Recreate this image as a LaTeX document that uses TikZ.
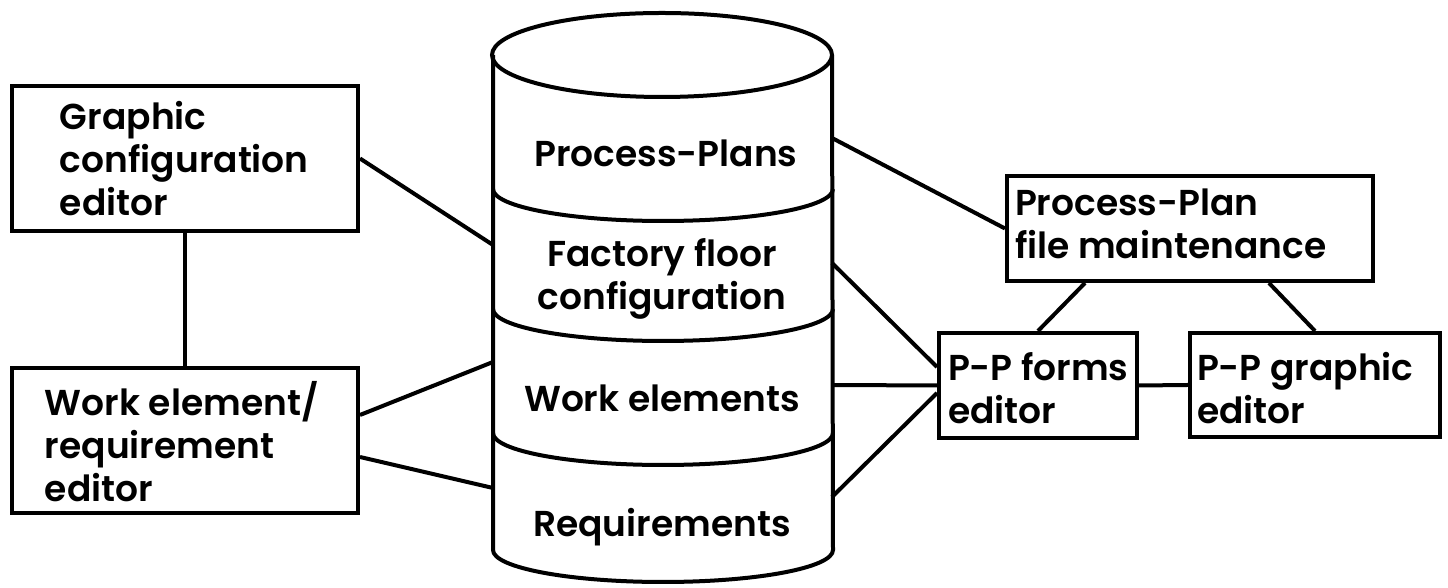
\documentclass[tikz,border=0pt]{standalone}
\usepackage{fontspec}
\setmainfont{Poppins}[UprightFont={* SemiBold}]
\newcommand\lefttext[3][0pt]{\raisebox{-#1}[\height][\depth]{\makebox[#2][l]{\begin{tabular}{@{}l@{}}#3\end{tabular}}}}
\begin{document}
\begin{tikzpicture}[x=0.5pt,y=0.5pt,line width=2pt,
  lbl/.style={font=\fontsize{18}{21.5}\selectfont},
  box/.style={draw,rectangle,inner ysep=0pt,lbl},
  dbtext/.style={lbl,align=center,anchor=base,inner sep=0pt}]
\useasboundingbox (0,0) rectangle (1448,588);
% database cylinder
\draw (662,533) ellipse [x radius=85pt,y radius=21pt];
\draw (493,533) -- (493,38) arc[start angle=180,end angle=360,x radius=85pt,y radius=16pt] -- (832,533);
\foreach \yy in {399,279,155}
  \draw (493,\yy) arc[start angle=180,end angle=360,x radius=85pt,y radius=16pt];
\coordinate (cl1) at (493,343);
\coordinate (cl2) at (493,226);
\coordinate (cl3) at (493,100);
\coordinate (cr1) at (832,450);
\coordinate (cr2) at (832,325);
\coordinate (cr3) at (832,203);
\coordinate (cr4) at (832,91);
\node[dbtext] (pp) at (666,421) {Process-Plans};
\node[dbtext] (ff) at (662,278) {Factory floor\\configuration};
\node[dbtext] (we) at (662,176) {Work elements};
\node[dbtext] (rq) at (662,51) {Requirements};
% boxes
\node[box,minimum width=173pt,minimum height=72.5pt,inner xsep=24pt] (gce) at (185,429.5)
  {\lefttext[2.5pt]{125pt}{Graphic\\configuration\\editor}};
\node[box,minimum width=173pt,minimum height=72.5pt,inner xsep=16.5pt] (wer) at (185,147.5)
  {\lefttext[3.5pt]{140pt}{Work element/\\requirement\\editor}};
\node[box,minimum width=183pt,minimum height=52.5pt,inner xsep=4pt] (ppfm) at (1190,359.5)
  {\lefttext{175pt}{Process-Plan\\file maintenance}};
\node[box,minimum width=99pt,minimum height=52.5pt,inner xsep=4.5pt] (ppf) at (1038,202.5)
  {\lefttext[4pt]{90pt}{P-P forms\\editor}};
\node[box,minimum width=125pt,minimum height=52pt,inner xsep=3.5pt] (ppg) at (1315,203)
  {\lefttext[4pt]{118pt}{P-P graphic\\editor}};
% connectors
\draw (gce.east) -- (cl1);
\draw ([yshift=12.75pt]wer.east) -- (cl2);
\draw ([yshift=-8.25pt]wer.east) -- (cl3);
\draw (gce.south) -- (wer.north);
\draw (cr1) -- (ppfm.west);
\draw (cr2) -- ([yshift=9.25pt]ppf.west);
\draw (cr3) -- (ppf.west);
\draw (cr4) -- ([yshift=-3.75pt]ppf.west);
\draw ([xshift=40pt]ppfm.south west) -- (ppf.north);
\draw ([xshift=-53pt]ppfm.south east) -- (ppg.north);
\draw (ppf.east) -- (ppg.west);
\end{tikzpicture}
\end{document}
